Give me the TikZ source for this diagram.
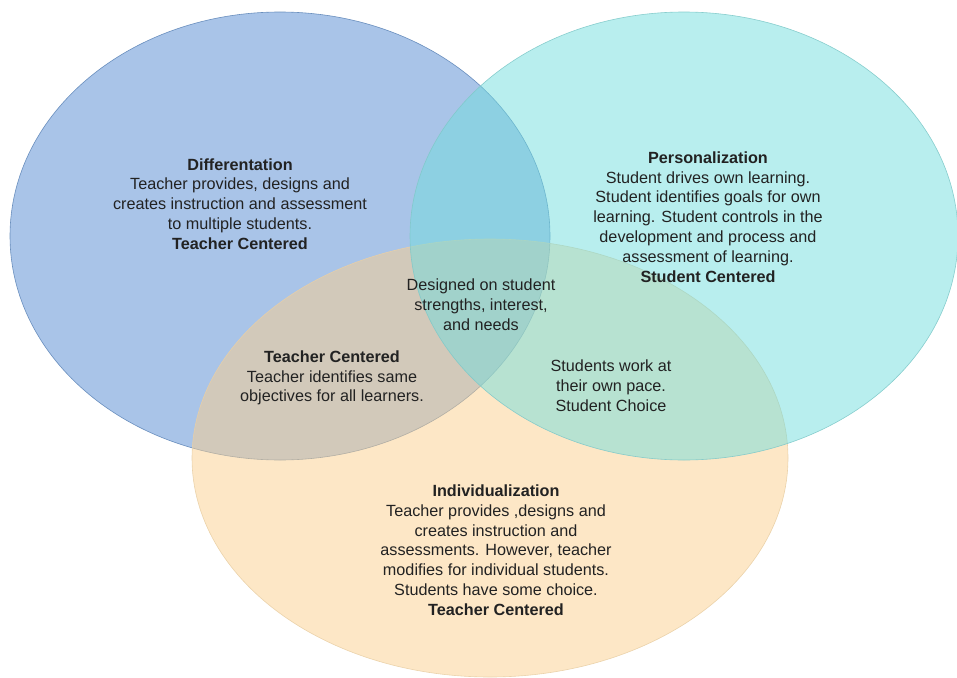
\documentclass[tikz,border=0pt]{standalone}
\usepackage{fontspec}
\setmainfont{Liberation Sans}
\definecolor{diffblue}{HTML}{5389D1}
\definecolor{diffline}{HTML}{5F86B8}
\definecolor{perscyan}{HTML}{71DDDD}
\definecolor{persline}{HTML}{7FC9C9}
\definecolor{indorange}{HTML}{FBCF8D}
\definecolor{indline}{HTML}{E9CFA6}
\definecolor{txt}{HTML}{222222}
\begin{document}
\begin{tikzpicture}[x=1pt,y=-1pt,line join=round,line cap=round,
		font=\fontsize{16.2}{19.8}\selectfont,
		set/.style={fill opacity=.5,draw opacity=.9,line width=.6pt},
		lbl/.style={align=center,text=txt,inner sep=0pt}]
	\useasboundingbox (0,0) rectangle (957,677);
	% the three sets
	\filldraw[set,fill=diffblue,draw=diffline] (280,236) ellipse (270 and 224);
	\filldraw[set,fill=indorange,draw=indline] (490,458) ellipse (298 and 219);
	\filldraw[set,fill=perscyan,draw=persline] (684,236) ellipse (274 and 224);
	% texts
	\node[lbl] (diff) at (240,204) {\textbf{Differentation}\\Teacher provides, designs and\\creates instruction and assessment\\to multiple students.\\\textbf{Teacher Centered}};
	\node[lbl] (pers) at (708,217) {\textbf{Personalization}\\Student drives own learning.\\Student identifies goals for own\\learning. Student controls in the\\development and process and\\assessment of learning.\\\textbf{Student Centered}};
	\node[lbl] (mid) at (481,305) {Designed on student\\strengths, interest,\\and needs};
	\node[lbl] (diffind) at (332,378) {\textbf{Teacher Centered}\\Teacher identifies same\\objectives for all learners.};
	\node[lbl] (persind) at (611,386) {Students work at\\their own pace.\\Student Choice};
	\node[lbl] (ind) at (496,550) {\textbf{Individualization}\\Teacher provides ,designs and\\creates instruction and\\assessments. However, teacher\\modifies for individual students.\\Students have some choice.\\\textbf{Teacher Centered}};
\end{tikzpicture}
\end{document}
